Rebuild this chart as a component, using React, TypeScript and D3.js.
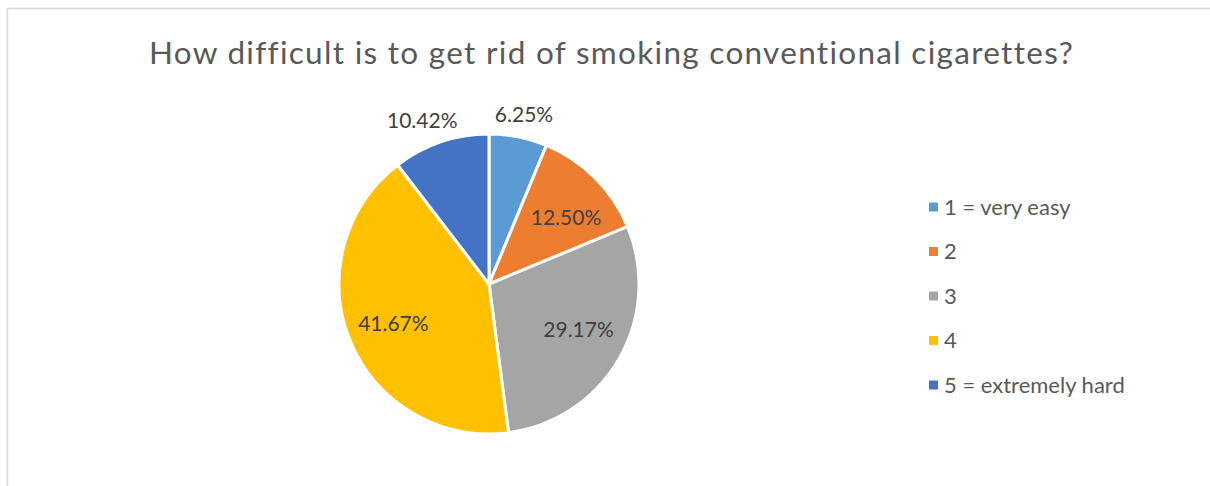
import React from "react";
import * as d3 from "d3";

const categories = ["1 = very easy", "2", "3", "4", "5 = extremely hard"];
const values = [6.25, 12.5, 29.17, 41.67, 10.42];
const colors = ["#5B9BD5", "#ED7D31", "#A5A5A5", "#FFC000", "#4472C4"];
const title = "How difficult is to get rid of smoking conventional cigarettes?";
// label placement: angle nudge (degrees) and radius as a fraction of pie radius
const labelAngleNudge = [0.4, 4, -3, 0, -3.5];
const labelRadiusFactor = [1.157, 0.68, 0.67, 0.69, 1.175];

export default function App() {
  const W = 1210, H = 486;
  const cx = 489, cy = 284, r = 150;
  const pie = d3.pie<number>().sort(null).value((d) => d)(values);
  const arc = d3.arc<d3.PieArcDatum<number>>().innerRadius(0).outerRadius(r);
  const font = "Lato, 'Open Sans', sans-serif";
  const textColor = "#595959";
  const legendY = d3.scalePoint<string>().domain(categories).range([207, 385]);

  return (
    <svg width={W} height={H} style={{ position: "fixed", left: 0, top: 0 }} fontFamily={font}>
      <rect x={0} y={0} width={W} height={H} fill="#fff" />
      <rect x={7.5} y={8.5} width={W + 10} height={H + 10} fill="#fff" stroke="#d9d9d9" strokeWidth={1.5} />
      <text x={611.5} y={64} textAnchor="middle" fontSize={31.5} letterSpacing={1.3} fill={textColor}>
        {title}
      </text>
      <g transform={`translate(${cx},${cy})`}>
        {pie.map((p, i) => (
          <path key={i} d={arc(p) || ""} fill={colors[i]} stroke="#fff" strokeWidth={3} strokeLinejoin="round" />
        ))}
        {pie.map((p, i) => {
          const mid = (p.startAngle + p.endAngle) / 2 + (labelAngleNudge[i] * Math.PI) / 180;
          const d = r * labelRadiusFactor[i];
          const x = Math.sin(mid) * d;
          const y = -Math.cos(mid) * d;
          return (
            <text key={i} x={x} y={y} dy="0.36em" textAnchor="middle" fontSize={21} fill="#404040">
              {values[i].toFixed(2)}%
            </text>
          );
        })}
      </g>
      {categories.map((c, i) => (
        <g key={c} transform={`translate(929,${legendY(c)})`}>
          <rect x={0} y={-4.5} width={9} height={9} fill={colors[i]} />
          <text x={15} y={0} dy="0.36em" fontSize={22} fill={textColor}>
            {c}
          </text>
        </g>
      ))}
    </svg>
  );
}
